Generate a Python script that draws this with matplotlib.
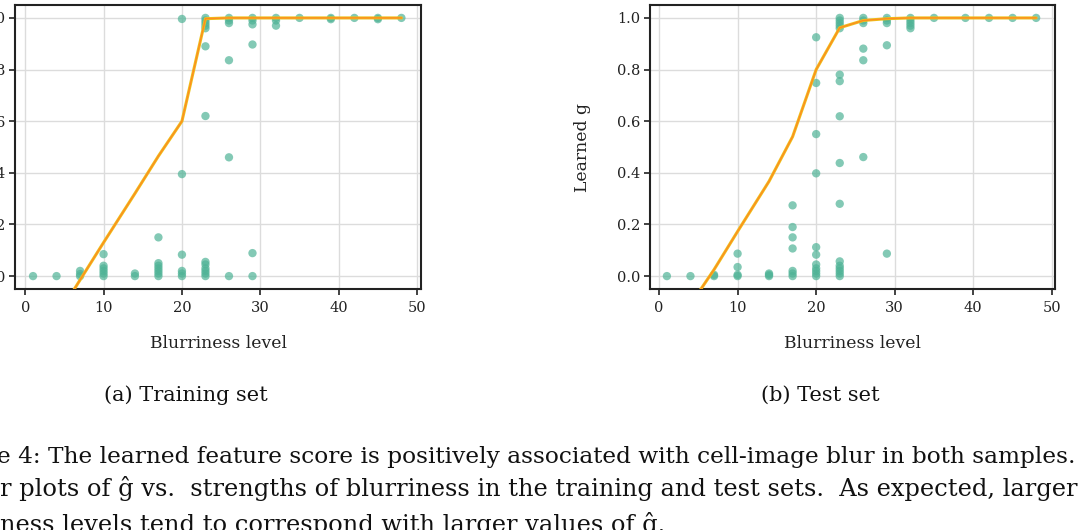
import numpy as np
import matplotlib
matplotlib.use("Agg")
import matplotlib.pyplot as plt

plt.rcParams['font.family'] = ['DejaVu Serif']

# DATA -------------------------------------------------------------------

levels = [1, 4, 7, 10, 14, 17, 20, 23, 26, 29, 32, 35, 39, 42, 45, 48]

# learned g of the cells at each blurriness level (training set)
train_g = [
    [0.0],
    [0.0],
    [0.0, 0.008, 0.02],
    [0.0, 0.01, 0.02, 0.03, 0.04, 0.085],
    [0.0, 0.01],
    [0.0, 0.01, 0.02, 0.03, 0.04, 0.05, 0.15],
    [0.0, 0.01, 0.02, 0.083, 0.395, 0.996],
    [0.0, 0.01, 0.02, 0.03, 0.045, 0.055, 0.62, 0.89, 0.96, 0.97, 0.98, 0.99, 1.0],
    [0.0, 0.46, 0.836, 0.98, 0.99, 1.0],
    [0.0, 0.089, 0.897, 0.975, 0.99, 1.0],
    [0.97, 0.99, 1.0],
    [1.0],
    [0.995, 1.0],
    [1.0],
    [0.995, 1.0],
    [1.0],
]
train_fit = [-0.30, -0.16, -0.015, 0.13, 0.32, 0.465, 0.60, 0.997,
             1.0, 1.0, 1.0, 1.0, 1.0, 1.0, 1.0, 1.0]

# test set
test_g = [
    [0.0],
    [0.0],
    [0.0, 0.005],
    [0.0, 0.005, 0.035, 0.087],
    [0.0, 0.005, 0.01],
    [0.0, 0.01, 0.02, 0.107, 0.15, 0.19, 0.274],
    [0.0, 0.01, 0.02, 0.03, 0.045, 0.083, 0.112, 0.398, 0.55, 0.748, 0.925],
    [0.0, 0.01, 0.02, 0.03, 0.04, 0.057, 0.28, 0.438, 0.619, 0.755, 0.78,
     0.96, 0.97, 0.98, 0.99, 1.0],
    [0.461, 0.836, 0.881, 0.98, 0.99, 1.0],
    [0.087, 0.894, 0.98, 0.99, 1.0],
    [0.96, 0.97, 0.98, 0.99, 1.0],
    [1.0],
    [1.0],
    [1.0],
    [1.0],
    [1.0],
]
test_fit = [-0.20, -0.11, 0.025, 0.173, 0.367, 0.54, 0.80, 0.962,
            0.99, 0.997, 1.0, 1.0, 1.0, 1.0, 1.0, 1.0]

xticks = [0, 10, 20, 30, 40, 50]
yticks = [0.0, 0.2, 0.4, 0.6, 0.8, 1.0]

caption_lines = [
    "e 4: The learned feature score is positively associated with cell-image blur in both samples.",
    "r plots of \u011d vs.  strengths of blurriness in the training and test sets.  As expected, larger",
    "ness levels tend to correspond with larger values of \u011d.",
]

# FIGURE -----------------------------------------------------------------

W, H = 1080, 530
fig = plt.figure(figsize=(W / 100, H / 100), dpi=100)


def px_axes(x0, x1, ytop, ybot):
    return fig.add_axes([x0 / W, 1 - ybot / H, (x1 - x0) / W, (ybot - ytop) / H])


ax1 = px_axes(15, 421, 5, 289)
ax2 = px_axes(650, 1055, 5, 289)

for ax, gvals, fit, xl in [(ax1, train_g, train_fit, (-1.3, 50.5)),
                           (ax2, test_g, test_fit, (-1.15, 50.4))]:
    xs = np.repeat(levels, [len(v) for v in gvals])
    ys = np.concatenate(gvals)
    ax.scatter(xs, ys, s=36, color='#4fb396', alpha=0.7, edgecolors='none', zorder=2)
    ax.plot(levels, fit, color='#ecc21c', lw=2.2, zorder=3, solid_capstyle='round')
    ax.plot(levels, fit, color='#ff8c1f', lw=1.0, zorder=4)
    ax.set_xlim(*xl)
    ax.set_ylim(-0.05, 1.05)
    ax.set_xticks(xticks)
    ax.set_yticks(yticks)
    ax.set_yticklabels([f"{t:.1f}" for t in yticks])
    ax.grid(True, color='#dcdcdc', lw=1.0, zorder=0)
    ax.set_axisbelow(True)
    for sp in ax.spines.values():
        sp.set_color('#222222')
        sp.set_linewidth(1.5)
    ax.tick_params(axis='both', direction='out', length=4, width=1.2,
                   color='#222222', labelsize=10.5, labelcolor='#222222')
    ax.tick_params(axis='x', pad=5)
    ax.tick_params(axis='y', pad=3)
    ax.set_xlabel("Blurriness level", fontsize=12.4, color='#222222', labelpad=14)

ax2.set_ylabel("Learned g", fontsize=12.4, color='#222222')
ax2.yaxis.set_label_coords(-0.145, 0.5)

fig.text(186 / W, 1 - 401 / H, "(a) Training set", fontsize=15, ha='center',
         va='baseline', color='#111111')
fig.text(820 / W, 1 - 401 / H, "(b) Test set", fontsize=15, ha='center',
         va='baseline', color='#111111')

# caption lines, sized so that the justified lines reach the right edge
renderer = fig.canvas.get_renderer()
base = 16
targets = [(-3, 1077), (0, 1077)]
sizes = []
for line, (x0, x1) in zip(caption_lines[:2], targets):
    t = fig.text(0, 0, line, fontsize=base)
    w = t.get_window_extent(renderer).width
    t.remove()
    sizes.append(base * (x1 - x0) / w)
sizes.append(sizes[1])
baselines = [463, 496, 532]
starts = [-3, 0, 0]
for line, size, yb, x0 in zip(caption_lines, sizes, baselines, starts):
    fig.text(x0 / W, 1 - yb / H, line, fontsize=size, ha='left', va='baseline',
             color='#111111')

fig.savefig("out.png", dpi=100)
